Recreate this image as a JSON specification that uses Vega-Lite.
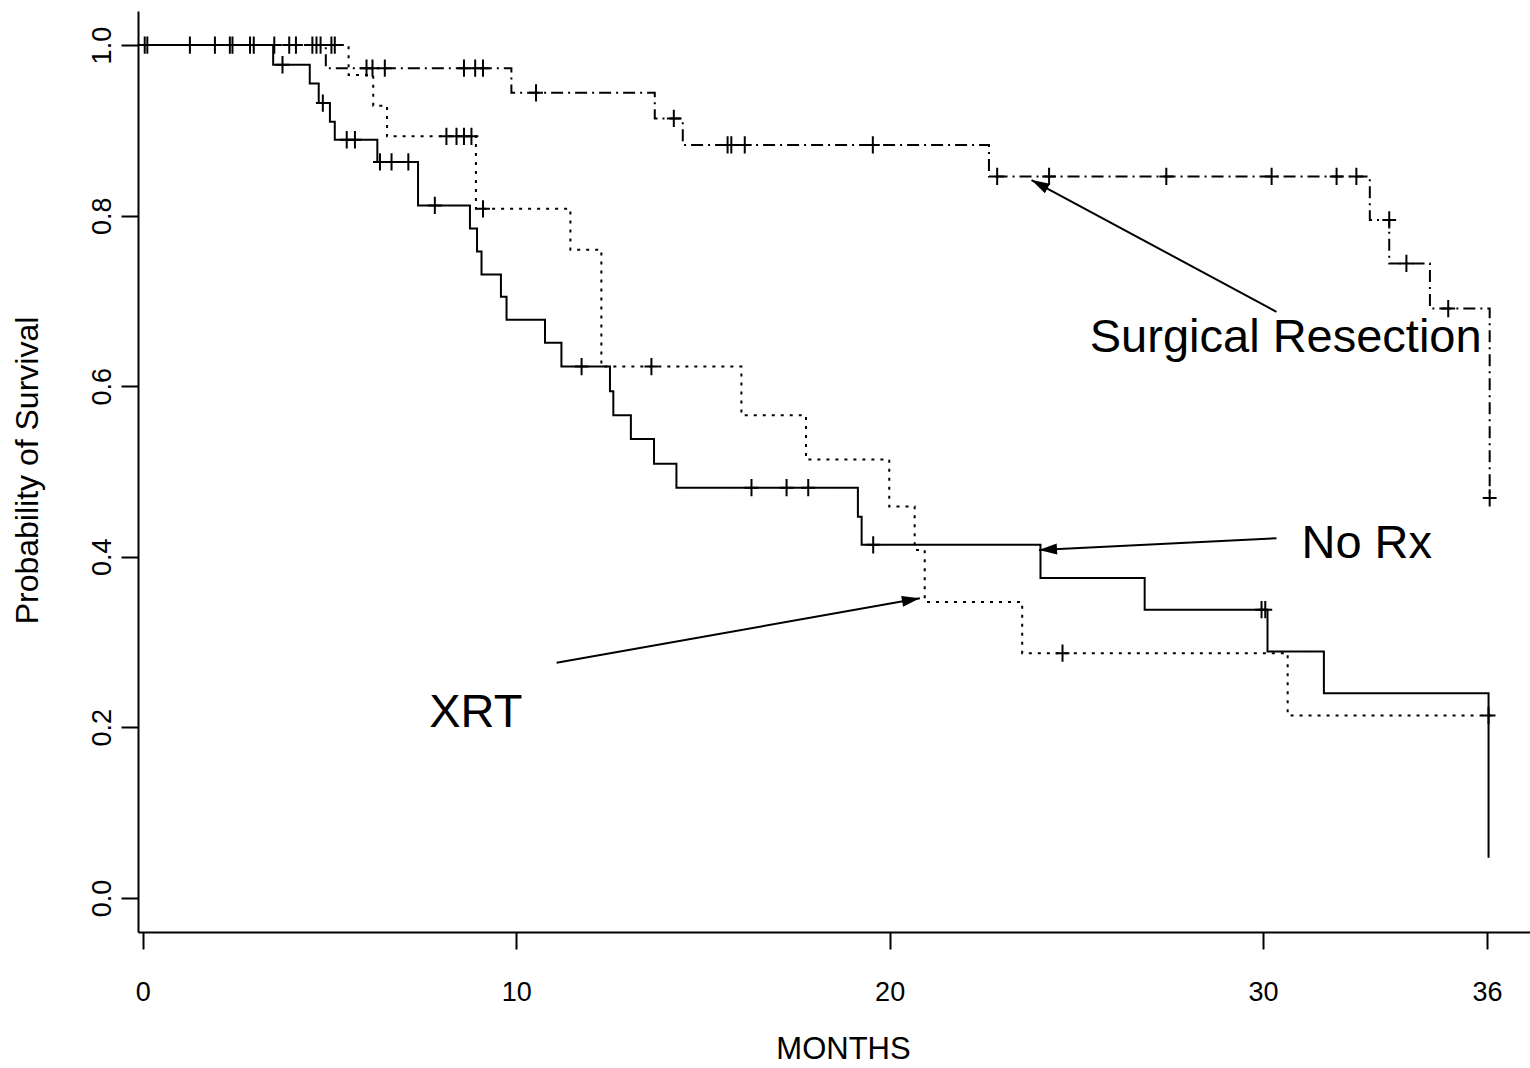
{
  "$schema": "https://vega.github.io/schema/vega-lite/v6.json",
  "width": 1392,
  "height": 921,
  "autosize": {"type": "none"},
  "padding": {"left": 138, "top": 11, "right": 0, "bottom": 136},
  "background": "white",
  "config": {"view": {"stroke": null}, "font": "Liberation Sans"},
  "datasets": {
    "curves": [
      {"group": "No Rx", "months": 0, "surv": 1.0},
      {"group": "No Rx", "months": 3.49, "surv": 0.977},
      {"group": "No Rx", "months": 4.47, "surv": 0.955},
      {"group": "No Rx", "months": 4.71, "surv": 0.932},
      {"group": "No Rx", "months": 5.01, "surv": 0.910},
      {"group": "No Rx", "months": 5.14, "surv": 0.889},
      {"group": "No Rx", "months": 6.28, "surv": 0.863},
      {"group": "No Rx", "months": 7.37, "surv": 0.812},
      {"group": "No Rx", "months": 8.76, "surv": 0.785},
      {"group": "No Rx", "months": 8.95, "surv": 0.758},
      {"group": "No Rx", "months": 9.07, "surv": 0.731},
      {"group": "No Rx", "months": 9.59, "surv": 0.705},
      {"group": "No Rx", "months": 9.74, "surv": 0.678},
      {"group": "No Rx", "months": 10.77, "surv": 0.651},
      {"group": "No Rx", "months": 11.21, "surv": 0.623},
      {"group": "No Rx", "months": 12.51, "surv": 0.594},
      {"group": "No Rx", "months": 12.60, "surv": 0.566},
      {"group": "No Rx", "months": 13.07, "surv": 0.538},
      {"group": "No Rx", "months": 13.69, "surv": 0.509},
      {"group": "No Rx", "months": 14.29, "surv": 0.481},
      {"group": "No Rx", "months": 19.15, "surv": 0.447},
      {"group": "No Rx", "months": 19.25, "surv": 0.414},
      {"group": "No Rx", "months": 24.04, "surv": 0.375},
      {"group": "No Rx", "months": 26.83, "surv": 0.338},
      {"group": "No Rx", "months": 30.12, "surv": 0.289},
      {"group": "No Rx", "months": 31.63, "surv": 0.240},
      {"group": "No Rx", "months": 36.04, "surv": 0.047},
      {"group": "XRT", "months": 0, "surv": 1.0},
      {"group": "XRT", "months": 5.51, "surv": 0.965},
      {"group": "XRT", "months": 6.17, "surv": 0.929},
      {"group": "XRT", "months": 6.54, "surv": 0.893},
      {"group": "XRT", "months": 8.92, "surv": 0.808},
      {"group": "XRT", "months": 11.45, "surv": 0.760},
      {"group": "XRT", "months": 12.28, "surv": 0.623},
      {"group": "XRT", "months": 16.03, "surv": 0.566},
      {"group": "XRT", "months": 17.76, "surv": 0.514},
      {"group": "XRT", "months": 19.99, "surv": 0.459},
      {"group": "XRT", "months": 20.67, "surv": 0.408},
      {"group": "XRT", "months": 20.94, "surv": 0.347},
      {"group": "XRT", "months": 23.55, "surv": 0.287},
      {"group": "XRT", "months": 30.66, "surv": 0.214},
      {"group": "XRT", "months": 36.25, "surv": 0.214},
      {"group": "Surgical Resection", "months": 0, "surv": 1.0},
      {"group": "Surgical Resection", "months": 4.9, "surv": 0.973},
      {"group": "Surgical Resection", "months": 9.87, "surv": 0.944},
      {"group": "Surgical Resection", "months": 13.71, "surv": 0.914},
      {"group": "Surgical Resection", "months": 14.46, "surv": 0.883},
      {"group": "Surgical Resection", "months": 22.66, "surv": 0.846},
      {"group": "Surgical Resection", "months": 32.86, "surv": 0.795},
      {"group": "Surgical Resection", "months": 33.38, "surv": 0.744},
      {"group": "Surgical Resection", "months": 34.47, "surv": 0.691},
      {"group": "Surgical Resection", "months": 36.07, "surv": 0.469}
    ],
    "censored": [
      {"group": "No Rx", "months": 0.05, "surv": 1.0},
      {"group": "No Rx", "months": 1.26, "surv": 1.0},
      {"group": "No Rx", "months": 1.93, "surv": 1.0},
      {"group": "No Rx", "months": 2.33, "surv": 1.0},
      {"group": "No Rx", "months": 3.74, "surv": 0.977},
      {"group": "No Rx", "months": 4.82, "surv": 0.932},
      {"group": "No Rx", "months": 5.46, "surv": 0.889},
      {"group": "No Rx", "months": 5.68, "surv": 0.889},
      {"group": "No Rx", "months": 6.35, "surv": 0.863},
      {"group": "No Rx", "months": 6.66, "surv": 0.863},
      {"group": "No Rx", "months": 7.11, "surv": 0.863},
      {"group": "No Rx", "months": 7.82, "surv": 0.812},
      {"group": "No Rx", "months": 11.75, "surv": 0.623},
      {"group": "No Rx", "months": 16.30, "surv": 0.481},
      {"group": "No Rx", "months": 17.24, "surv": 0.481},
      {"group": "No Rx", "months": 17.82, "surv": 0.481},
      {"group": "No Rx", "months": 19.56, "surv": 0.414},
      {"group": "No Rx", "months": 29.96, "surv": 0.338},
      {"group": "No Rx", "months": 30.06, "surv": 0.338},
      {"group": "XRT", "months": 0.12, "surv": 1.0},
      {"group": "XRT", "months": 2.40, "surv": 1.0},
      {"group": "XRT", "months": 2.87, "surv": 1.0},
      {"group": "XRT", "months": 4.10, "surv": 1.0},
      {"group": "XRT", "months": 4.54, "surv": 1.0},
      {"group": "XRT", "months": 5.05, "surv": 1.0},
      {"group": "XRT", "months": 5.14, "surv": 1.0},
      {"group": "XRT", "months": 8.13, "surv": 0.893},
      {"group": "XRT", "months": 8.40, "surv": 0.893},
      {"group": "XRT", "months": 8.60, "surv": 0.893},
      {"group": "XRT", "months": 8.80, "surv": 0.893},
      {"group": "XRT", "months": 9.11, "surv": 0.808},
      {"group": "XRT", "months": 13.62, "surv": 0.623},
      {"group": "XRT", "months": 24.63, "surv": 0.287},
      {"group": "XRT", "months": 36.04, "surv": 0.214},
      {"group": "Surgical Resection", "months": 2.97, "surv": 1.0},
      {"group": "Surgical Resection", "months": 3.52, "surv": 1.0},
      {"group": "Surgical Resection", "months": 3.92, "surv": 1.0},
      {"group": "Surgical Resection", "months": 4.65, "surv": 1.0},
      {"group": "Surgical Resection", "months": 4.76, "surv": 1.0},
      {"group": "Surgical Resection", "months": 5.99, "surv": 0.973},
      {"group": "Surgical Resection", "months": 6.15, "surv": 0.973},
      {"group": "Surgical Resection", "months": 6.48, "surv": 0.973},
      {"group": "Surgical Resection", "months": 8.6, "surv": 0.973},
      {"group": "Surgical Resection", "months": 8.9, "surv": 0.973},
      {"group": "Surgical Resection", "months": 9.11, "surv": 0.973},
      {"group": "Surgical Resection", "months": 10.53, "surv": 0.944},
      {"group": "Surgical Resection", "months": 14.22, "surv": 0.914},
      {"group": "Surgical Resection", "months": 15.66, "surv": 0.883},
      {"group": "Surgical Resection", "months": 15.76, "surv": 0.883},
      {"group": "Surgical Resection", "months": 16.12, "surv": 0.883},
      {"group": "Surgical Resection", "months": 19.55, "surv": 0.883},
      {"group": "Surgical Resection", "months": 22.88, "surv": 0.846},
      {"group": "Surgical Resection", "months": 24.27, "surv": 0.846},
      {"group": "Surgical Resection", "months": 27.41, "surv": 0.846},
      {"group": "Surgical Resection", "months": 30.23, "surv": 0.846},
      {"group": "Surgical Resection", "months": 31.97, "surv": 0.846},
      {"group": "Surgical Resection", "months": 32.50, "surv": 0.846},
      {"group": "Surgical Resection", "months": 33.38, "surv": 0.795},
      {"group": "Surgical Resection", "months": 33.84, "surv": 0.744},
      {"group": "Surgical Resection", "months": 34.96, "surv": 0.691},
      {"group": "Surgical Resection", "months": 36.07, "surv": 0.469}
    ],
    "arrows": [
      {"label": "Surgical Resection", "fromMonths": 30.36, "fromSurv": 0.6873, "toMonths": 23.80, "toSurv": 0.8417},
      {"label": "No Rx", "fromMonths": 30.36, "fromSurv": 0.4217, "toMonths": 24.00, "toSurv": 0.408},
      {"label": "XRT", "fromMonths": 11.08, "fromSurv": 0.2758, "toMonths": 20.81, "toSurv": 0.3513}
    ],
    "labels": [
      {"label": "Surgical Resection", "months": 25.36, "surv": 0.6405},
      {"label": "No Rx", "months": 31.03, "surv": 0.3982},
      {"label": "XRT", "months": 7.67, "surv": 0.2008}
    ]
  },
  "encoding": {
    "x": {
      "type": "quantitative",
      "scale": {"domain": [-0.13, 37.15], "nice": false, "zero": false},
      "axis": {
        "title": "MONTHS",
        "values": [0, 10, 20, 30, 36],
        "grid": false,
        "domainColor": "black",
        "domainWidth": 2,
        "tickColor": "black",
        "tickWidth": 2,
        "tickSize": 17,
        "labelFont": "Liberation Sans",
        "labelFontSize": 27,
        "labelColor": "black",
        "labelBaseline": "alphabetic",
        "labelPadding": 51,
        "labelFlush": false,
        "titleFont": "Liberation Sans",
        "titleFontSize": 31,
        "titleFontWeight": "normal",
        "titleColor": "black",
        "titleBaseline": "alphabetic",
        "titleX": 705,
        "titleY": 126
      }
    },
    "y": {
      "type": "quantitative",
      "scale": {"domain": [-0.04, 1.04], "nice": false, "zero": false},
      "axis": {
        "title": "Probability of Survival",
        "values": [0, 0.2, 0.4, 0.6, 0.8, 1.0],
        "format": ".1f",
        "grid": false,
        "domainColor": "black",
        "domainWidth": 2,
        "tickColor": "black",
        "tickWidth": 2,
        "tickSize": 17,
        "labelFont": "Liberation Sans",
        "labelFontSize": 27,
        "labelColor": "black",
        "labelAngle": -90,
        "labelAlign": "center",
        "labelBaseline": "alphabetic",
        "labelPadding": 11,
        "labelFlush": false,
        "titleFont": "Liberation Sans",
        "titleFontSize": 32,
        "titleFontWeight": "normal",
        "titleColor": "black",
        "titleAngle": -90,
        "titleAlign": "center",
        "titleBaseline": "alphabetic",
        "titleX": -101,
        "titleY": 459
      }
    }
  },
  "layer": [
    {
      "mark": {"type": "rule", "color": "black", "strokeWidth": 3},
      "encoding": {"y": {"datum": 1.04}}
    },
    {
      "data": {"name": "curves"},
      "mark": {"type": "line", "interpolate": "step-after", "color": "black", "strokeWidth": 2},
      "encoding": {
        "x": {"field": "months", "type": "quantitative"},
        "y": {"field": "surv", "type": "quantitative"},
        "detail": {"field": "group"},
        "strokeDash": {
          "field": "group",
          "type": "nominal",
          "scale": {"domain": ["Surgical Resection", "No Rx", "XRT"], "range": [[12, 5, 2, 5], [1, 0], [3, 6]]},
          "legend": null
        }
      }
    },
    {
      "data": {"name": "censored"},
      "mark": {"type": "point", "shape": "M-0.8,0L0.8,0M0,-1L0,1", "filled": false, "stroke": "black", "strokeWidth": 2, "size": 300, "opacity": 1},
      "encoding": {
        "x": {"field": "months", "type": "quantitative"},
        "y": {"field": "surv", "type": "quantitative"}
      }
    },
    {
      "data": {"name": "arrows"},
      "mark": {"type": "rule", "color": "black", "strokeWidth": 2},
      "encoding": {
        "x": {"field": "fromMonths", "type": "quantitative"},
        "y": {"field": "fromSurv", "type": "quantitative"},
        "x2": {"field": "toMonths"},
        "y2": {"field": "toSurv"}
      }
    },
    {
      "data": {"name": "arrows"},
      "transform": [{"filter": "datum.label === 'Surgical Resection'"}],
      "mark": {"type": "point", "shape": "M0,0L0.6,2L-0.6,2Z", "filled": true, "fill": "black", "strokeWidth": 0, "size": 324, "opacity": 1, "angle": 298},
      "encoding": {
        "x": {"field": "toMonths", "type": "quantitative"},
        "y": {"field": "toSurv", "type": "quantitative"}
      }
    },
    {
      "data": {"name": "arrows"},
      "transform": [{"filter": "datum.label === 'No Rx'"}],
      "mark": {"type": "point", "shape": "M0,0L0.6,2L-0.6,2Z", "filled": true, "fill": "black", "strokeWidth": 0, "size": 324, "opacity": 1, "angle": 267},
      "encoding": {
        "x": {"field": "toMonths", "type": "quantitative"},
        "y": {"field": "toSurv", "type": "quantitative"}
      }
    },
    {
      "data": {"name": "arrows"},
      "transform": [{"filter": "datum.label === 'XRT'"}],
      "mark": {"type": "point", "shape": "M0,0L0.6,2L-0.6,2Z", "filled": true, "fill": "black", "strokeWidth": 0, "size": 324, "opacity": 1, "angle": 80},
      "encoding": {
        "x": {"field": "toMonths", "type": "quantitative"},
        "y": {"field": "toSurv", "type": "quantitative"}
      }
    },
    {
      "data": {"name": "labels"},
      "mark": {"type": "text", "align": "left", "baseline": "alphabetic", "font": "Liberation Sans", "fontSize": 47, "color": "black"},
      "encoding": {
        "x": {"field": "months", "type": "quantitative"},
        "y": {"field": "surv", "type": "quantitative"},
        "text": {"field": "label"}
      }
    }
  ]
}
